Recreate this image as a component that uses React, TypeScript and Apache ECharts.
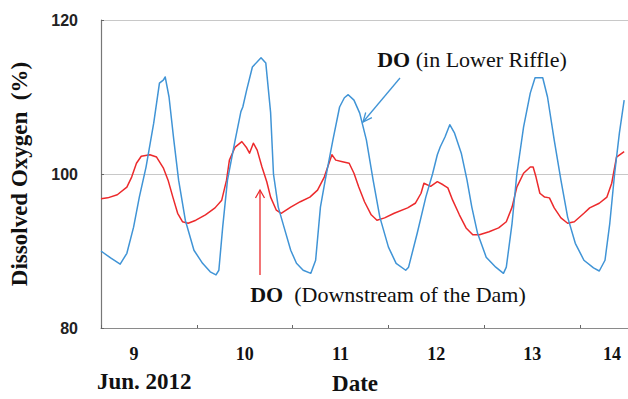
import React, { useEffect, useRef } from "react";
import * as echarts from "echarts";

// time in days since 9 Jun 2012 00:00
const riffleTime = [0.0, 0.1, 0.2, 0.27, 0.34, 0.4, 0.47, 0.55, 0.61, 0.65, 0.67, 0.71, 0.76, 0.81, 0.88, 0.97, 1.06, 1.14, 1.2, 1.23, 1.27, 1.32, 1.4, 1.46, 1.48, 1.52, 1.58, 1.67, 1.72, 1.77, 1.8, 1.85, 1.91, 1.98, 2.04, 2.11, 2.19, 2.24, 2.29, 2.34, 2.42, 2.49, 2.54, 2.58, 2.64, 2.7, 2.77, 2.84, 2.91, 3.0, 3.08, 3.18, 3.21, 3.3, 3.39, 3.46, 3.51, 3.54, 3.59, 3.64, 3.69, 3.76, 3.82, 3.87, 3.93, 4.02, 4.12, 4.2, 4.23, 4.29, 4.34, 4.41, 4.48, 4.53, 4.61, 4.66, 4.73, 4.8, 4.87, 4.95, 5.04, 5.14, 5.2, 5.26, 5.31, 5.36, 5.41, 5.46];
const riffleDO = [90.0, 89.1, 88.3, 89.7, 93.1, 97.0, 100.9, 106.6, 111.8, 112.2, 112.6, 110.0, 104.4, 99.2, 94.0, 90.1, 88.4, 87.3, 86.9, 87.5, 93.1, 99.2, 104.4, 108.1, 108.7, 110.9, 113.9, 115.1, 114.4, 108.0, 100.0, 95.7, 93.1, 90.1, 88.4, 87.5, 87.1, 88.8, 95.7, 99.2, 104.4, 108.7, 109.9, 110.3, 109.6, 107.9, 104.4, 99.2, 94.4, 90.5, 88.4, 87.5, 87.9, 92.3, 97.0, 100.0, 102.5, 103.5, 104.8, 106.4, 105.3, 102.7, 99.2, 95.7, 92.3, 89.2, 87.9, 87.1, 87.9, 93.6, 100.0, 106.1, 110.5, 112.5, 112.5, 110.0, 104.4, 99.2, 94.4, 91.0, 88.8, 87.8, 87.4, 88.8, 93.6, 100.0, 105.3, 109.6];

const damTime = [0.0, 0.07, 0.17, 0.27, 0.32, 0.37, 0.42, 0.51, 0.58, 0.65, 0.7, 0.75, 0.8, 0.85, 0.91, 0.99, 1.09, 1.19, 1.26, 1.31, 1.34, 1.4, 1.47, 1.52, 1.55, 1.59, 1.63, 1.68, 1.73, 1.77, 1.83, 1.88, 1.98, 2.08, 2.18, 2.26, 2.33, 2.41, 2.45, 2.52, 2.59, 2.64, 2.69, 2.75, 2.82, 2.88, 2.96, 3.06, 3.2, 3.28, 3.34, 3.37, 3.44, 3.51, 3.57, 3.62, 3.67, 3.74, 3.81, 3.88, 3.95, 4.05, 4.15, 4.23, 4.29, 4.34, 4.41, 4.48, 4.51, 4.54, 4.58, 4.63, 4.68, 4.73, 4.8, 4.87, 4.94, 5.04, 5.1, 5.2, 5.28, 5.33, 5.38, 5.46];
const damDO = [96.8, 96.9, 97.3, 98.3, 99.6, 101.4, 102.3, 102.5, 102.2, 100.8, 99.2, 97.0, 94.9, 93.8, 93.6, 94.0, 94.7, 95.6, 96.6, 99.2, 101.8, 103.5, 104.2, 103.4, 102.7, 104.0, 103.1, 100.9, 99.0, 97.0, 95.3, 94.9, 95.7, 96.4, 97.0, 97.9, 99.6, 102.5, 101.8, 101.6, 101.4, 100.1, 98.3, 96.4, 94.7, 94.0, 94.3, 94.9, 95.6, 96.2, 97.5, 98.8, 98.4, 99.0, 98.6, 98.2, 96.6, 94.7, 93.0, 92.1, 92.1, 92.5, 93.0, 93.8, 95.7, 98.3, 100.1, 100.9, 100.9, 99.6, 97.5, 97.0, 96.9, 95.6, 94.3, 93.6, 93.8, 94.9, 95.6, 96.2, 97.0, 98.8, 102.2, 102.9];

const dayLabels = ["9", "10", "11", "12", "13", "14"];
const yTicks = { min: 80, max: 120, step: 20 };

const SERIF = "'Liberation Serif', 'Times New Roman', serif";
const BLUE = "#4094d6";
const RED = "#ec2a2c";

export default function App() {
  const ref = useRef<HTMLDivElement>(null);
  useEffect(() => {
    if (!ref.current) return;
    const chart = echarts.init(ref.current, null, { renderer: "svg" });
    const pairs = (t: number[], v: number[]) => t.map((x, i) => [x, v[i]]);
    chart.setOption({
      animation: false,
      grid: { left: 93.5, right: -4, top: 20, bottom: 71, containLabel: false },
      xAxis: [
        {
          type: "value",
          min: 0,
          max: 5.5,
          interval: 1,
          axisLine: { show: true, lineStyle: { color: "#8a8a8a", width: 1.2 } },
          axisTick: { show: true, inside: true, length: 3, lineStyle: { color: "#666" } },
          axisLabel: { show: false },
          splitLine: { show: false },
        },
        {
          type: "value",
          min: 0,
          max: 5.5,
          interval: 0.5,
          position: "bottom",
          axisLine: { show: false },
          axisTick: { show: false },
          splitLine: { show: false },
          axisLabel: {
            show: true,
            margin: 17,
            fontFamily: SERIF,
            fontWeight: "bold",
            fontSize: 18,
            color: "#111",
            formatter: (v: number) => {
              const k = Math.floor(v);
              if (Math.abs(v - k - 0.5) > 1e-6) return "";
              const lab = dayLabels[k];
              if (k === 0) return "{a|" + lab + "}";
              if (k === dayLabels.length - 1) return "{z|" + lab + "}";
              return "{n|" + lab + "}";
            },
            rich: {
              a: { fontFamily: SERIF, fontWeight: "bold", fontSize: 18, color: "#111", padding: [0, 30, 0, 0] },
              n: { fontFamily: SERIF, fontWeight: "bold", fontSize: 18, color: "#111" },
              z: { fontFamily: SERIF, fontWeight: "bold", fontSize: 18, color: "#111", padding: [0, 32, 0, 0] },
            },
          },
        },
      ],
      yAxis: {
        type: "value",
        min: yTicks.min,
        max: yTicks.max,
        interval: yTicks.step,
        name: "Dissolved Oxygen  (%)",
        nameLocation: "middle",
        nameGap: 70,
        nameRotate: 90,
        nameTextStyle: { fontFamily: SERIF, fontWeight: "bold", fontSize: 23, color: "#111" },
        axisLine: { show: true, lineStyle: { color: "#777", width: 1.2 } },
        axisTick: { show: true, inside: true, length: 3, lineStyle: { color: "#666" } },
        axisLabel: {
          margin: 23,
          fontFamily: "'Liberation Sans', Arial, sans-serif",
          fontWeight: "bold",
          fontSize: 16,
          color: "#222",
        },
        splitLine: { show: true, lineStyle: { color: "#c8c8c8", width: 1 } },
      },
      series: [
        {
          name: "DO (Downstream of the Dam)",
          type: "line",
          data: pairs(damTime, damDO),
          showSymbol: false,
          lineStyle: { color: RED, width: 1.5, join: "round" },
          itemStyle: { color: RED },
          z: 3,
        },
        {
          name: "DO (in Lower Riffle)",
          type: "line",
          data: pairs(riffleTime, riffleDO),
          showSymbol: false,
          lineStyle: { color: BLUE, width: 1.5, join: "round" },
          itemStyle: { color: BLUE },
          z: 4,
        },
      ],
      graphic: [
        {
          type: "text",
          left: 148 - 51,
          top: 383 - 13,
          style: { text: "Jun. 2012", fontFamily: SERIF, fontWeight: "bold", fontSize: 23, fill: "#111" },
        },
        {
          type: "text",
          x: 355,
          y: 383,
          style: {
            text: "Date",
            fontFamily: SERIF,
            fontWeight: "bold",
            fontSize: 23,
            fill: "#111",
            align: "center",
            verticalAlign: "middle",
          },
        },
        {
          type: "text",
          x: 472,
          y: 59,
          style: {
            text: "{b|DO} (in Lower Riffle)",
            fontFamily: SERIF,
            fontSize: 22,
            fill: "#111",
            align: "center",
            verticalAlign: "middle",
            rich: { b: { fontFamily: SERIF, fontWeight: "bold", fontSize: 22, fill: "#111" } },
          },
        },
        {
          type: "text",
          x: 388,
          y: 294,
          style: {
            text: "{b|DO}  (Downstream of the Dam)",
            fontFamily: SERIF,
            fontSize: 22,
            fill: "#111",
            align: "center",
            verticalAlign: "middle",
            rich: { b: { fontFamily: SERIF, fontWeight: "bold", fontSize: 22, fill: "#111" } },
          },
        },
        {
          type: "line",
          shape: { x1: 400, y1: 78, x2: 363, y2: 122 },
          style: { stroke: BLUE, lineWidth: 1.3 },
        },
        {
          type: "polyline",
          shape: { points: [[371.9, 117.7], [363, 122], [365.7, 112.5]] },
          style: { stroke: BLUE, lineWidth: 1.3, fill: null },
        },
        {
          type: "line",
          shape: { x1: 260, y1: 275, x2: 260, y2: 190 },
          style: { stroke: RED, lineWidth: 1.3 },
        },
        {
          type: "polyline",
          shape: { points: [[255.5, 198], [260, 190], [264.5, 198]] },
          style: { stroke: RED, lineWidth: 1.3, fill: null },
        },
      ],
    });
    return () => chart.dispose();
  }, []);
  return (
    <div
      ref={ref}
      style={{ position: "fixed", left: 0, top: 0, width: 628, height: 399, background: "#fff" }}
    />
  );
}
